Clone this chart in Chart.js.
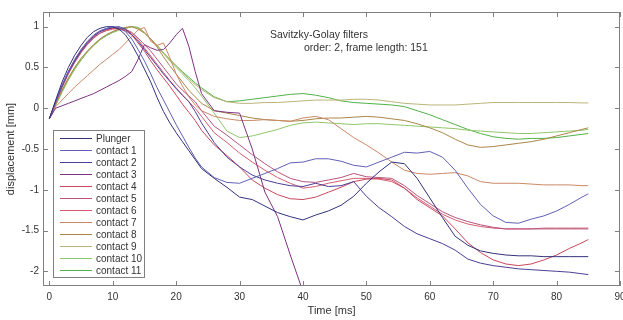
<!DOCTYPE html>
<html>
<head>
<meta charset="utf-8">
<script src="https://cdn.jsdelivr.net/npm/chart.js@4.4.0/dist/chart.umd.min.js"></script>
<style>
  html, body { margin: 0; padding: 0; background: #fff; }
</style>
</head>
<body>
<canvas id="displacement-chart" width="623" height="320"></canvas>
<script>
// time [ms]
const time = [0, 1, 2, 3, 4, 5, 6, 7, 8, 9, 10, 11, 12, 13, 14, 15, 16, 17, 18, 19, 20, 21, 22, 23, 24,
  26, 28, 30, 32, 34, 36, 38, 40, 42, 44, 46, 48, 50, 52, 54, 56, 58, 60, 62, 64, 66, 68, 70, 72, 74, 76, 78, 80, 82, 84, 85];

// displacement [mm]
const plunger = [-0.13, 0.1, 0.32, 0.5, 0.65, 0.77, 0.87, 0.94, 0.98, 1.0, 1.0, 0.97, 0.9, 0.78, 0.64, 0.48, 0.32, 0.13, -0.04, -0.18, -0.3, -0.41, -0.52, -0.63, -0.74,
  -0.86, -0.97, -1.09, -1.12, -1.2, -1.28, -1.33, -1.37, -1.31, -1.26, -1.19, -1.08, -0.92, -0.78, -0.66, -0.68, -0.86, -1.1, -1.34, -1.57, -1.68, -1.75, -1.78, -1.8, -1.81, -1.81, -1.82, -1.82, -1.82, -1.82, -1.82];
const contact1 = [-0.13, 0.08, 0.28, 0.45, 0.6, 0.72, 0.82, 0.9, 0.95, 0.98, 1.0, 0.99, 0.94, 0.85, 0.72, 0.58, 0.42, 0.25, 0.1, -0.05, -0.2, -0.34, -0.48, -0.61, -0.72,
  -0.85, -0.91, -0.92, -0.86, -0.8, -0.74, -0.67, -0.66, -0.62, -0.62, -0.65, -0.7, -0.72, -0.66, -0.6, -0.54, -0.55, -0.53, -0.6, -0.76, -0.98, -1.18, -1.32, -1.4, -1.41, -1.36, -1.32, -1.26, -1.18, -1.09, -1.05];
const contact2 = [-0.13, 0.08, 0.27, 0.44, 0.58, 0.7, 0.8, 0.88, 0.94, 0.97, 0.99, 1.0, 0.97, 0.9, 0.82, 0.72, 0.62, 0.52, 0.42, 0.33, 0.24, 0.16, 0.08, -0.04, -0.18,
  -0.42, -0.6, -0.72, -0.82, -0.88, -0.92, -0.95, -0.96, -0.92, -0.96, -0.95, -0.9, -1.08, -1.22, -1.33, -1.45, -1.54, -1.6, -1.66, -1.74, -1.85, -1.9, -1.93, -1.95, -1.97, -1.98, -1.99, -2.0, -2.01, -2.03, -2.04];
const contact3 = [-0.13, 0.0, 0.03, 0.06, 0.09, 0.12, 0.15, 0.18, 0.22, 0.26, 0.3, 0.34, 0.39, 0.45, 0.6, 0.78, 0.74, 0.71, 0.72, 0.8, 0.9, 0.98, 0.76, 0.45, 0.18,
  -0.03, -0.05, -0.06, -0.5, -1.03, -1.33, -1.8, -2.25, null, null, null, null, null, null, null, null, null, null, null, null, null, null, null, null, null, null, null, null, null, null, null];
const contact4 = [-0.13, 0.08, 0.28, 0.45, 0.59, 0.71, 0.81, 0.89, 0.94, 0.97, 0.98, 0.97, 0.95, 0.9, 0.8, 0.7, 0.58, 0.47, 0.37, 0.27, 0.16, 0.05, -0.05, -0.15, -0.27,
  -0.45, -0.58, -0.72, -0.88, -0.98, -1.06, -1.11, -1.12, -1.09, -1.03, -0.97, -0.9, -0.87, -0.86, -0.88, -0.98, -1.12, -1.22, -1.32, -1.48, -1.65, -1.77, -1.86, -1.91, -1.93, -1.91, -1.86, -1.8, -1.72, -1.65, -1.61];
const contact5 = [-0.13, 0.07, 0.26, 0.43, 0.57, 0.69, 0.79, 0.87, 0.92, 0.96, 0.98, 0.98, 0.97, 0.93, 0.86, 0.78, 0.7, 0.6, 0.5, 0.4, 0.3, 0.22, 0.15, 0.08, -0.03,
  -0.22, -0.33, -0.45, -0.57, -0.68, -0.78, -0.86, -0.9, -0.91, -0.88, -0.85, -0.8, -0.84, -0.85, -0.86, -0.95, -1.07, -1.17, -1.27, -1.34, -1.39, -1.43, -1.46, -1.48, -1.48, -1.48, -1.48, -1.48, -1.48, -1.48, -1.48];
const contact6 = [-0.13, 0.07, 0.25, 0.42, 0.56, 0.68, 0.78, 0.86, 0.92, 0.95, 0.97, 0.98, 0.96, 0.92, 0.84, 0.74, 0.64, 0.54, 0.44, 0.34, 0.25, 0.16, 0.08, 0.0, -0.1,
  -0.3, -0.42, -0.55, -0.66, -0.76, -0.85, -0.92, -0.98, -0.96, -0.92, -0.89, -0.86, -0.86, -0.87, -0.9, -0.98, -1.1, -1.2, -1.3, -1.37, -1.42, -1.45, -1.47, -1.48, -1.48, -1.48, -1.47, -1.47, -1.47, -1.47, -1.47];
const contact7 = [-0.13, 0.02, 0.1, 0.18, 0.26, 0.33, 0.4, 0.47, 0.54, 0.6, 0.66, 0.72, 0.8, 0.88, 0.96, 0.99, 0.82, 0.77, 0.8, 0.62, 0.42, 0.27, 0.14, 0.04, -0.03,
  -0.1, -0.13, -0.15, -0.15, -0.14, -0.15, -0.16, -0.12, -0.1, -0.14, -0.25, -0.36, -0.45, -0.55, -0.66, -0.76, -0.8, -0.81, -0.8, -0.79, -0.83, -0.9, -0.92, -0.92, -0.92, -0.93, -0.94, -0.94, -0.94, -0.95, -0.95];
const contact8 = [-0.13, 0.05, 0.22, 0.37, 0.5, 0.61, 0.7, 0.78, 0.85, 0.9, 0.94, 0.97, 0.99, 1.0, 0.97, 0.92, 0.85, 0.75, 0.63, 0.52, 0.42, 0.32, 0.22, 0.14, 0.06,
  -0.03, -0.06, -0.09, -0.12, -0.14, -0.15, -0.16, -0.15, -0.13, -0.12, -0.12, -0.11, -0.1, -0.11, -0.13, -0.15, -0.19, -0.24, -0.3, -0.38, -0.45, -0.48, -0.47, -0.45, -0.43, -0.41, -0.38, -0.34, -0.3, -0.26, -0.24];
const contact9 = [-0.13, 0.05, 0.22, 0.37, 0.5, 0.61, 0.7, 0.78, 0.85, 0.9, 0.94, 0.97, 0.99, 1.0, 0.98, 0.93, 0.85, 0.77, 0.68, 0.6, 0.52, 0.44, 0.36, 0.29, 0.23,
  0.13, 0.08, 0.06, 0.06, 0.07, 0.07, 0.08, 0.09, 0.1, 0.1, 0.1, 0.11, 0.11, 0.1, 0.08, 0.06, 0.05, 0.04, 0.04, 0.04, 0.05, 0.06, 0.07, 0.07, 0.07, 0.07, 0.07, 0.07, 0.07, 0.065, 0.065];
const contact10 = [-0.13, 0.04, 0.2, 0.35, 0.48, 0.59, 0.69, 0.77, 0.84, 0.89, 0.93, 0.96, 0.98, 1.0, 0.99, 0.93, 0.85, 0.76, 0.67, 0.58, 0.5, 0.42, 0.34, 0.25, 0.15,
  -0.06, -0.28, -0.36, -0.34, -0.3, -0.26, -0.21, -0.18, -0.17, -0.18, -0.19, -0.2, -0.19, -0.19, -0.2, -0.21, -0.22, -0.23, -0.24, -0.25, -0.27, -0.28, -0.29, -0.3, -0.31, -0.31, -0.3, -0.29, -0.28, -0.27, -0.26];
const contact11 = [-0.13, 0.04, 0.2, 0.35, 0.48, 0.59, 0.69, 0.77, 0.84, 0.89, 0.93, 0.96, 0.98, 1.0, 0.99, 0.93, 0.85, 0.77, 0.68, 0.6, 0.52, 0.45, 0.38, 0.31, 0.25,
  0.14, 0.08, 0.09, 0.11, 0.13, 0.15, 0.17, 0.18, 0.16, 0.13, 0.09, 0.07, 0.06, 0.05, 0.04, 0.02, -0.03, -0.08, -0.14, -0.2, -0.26, -0.31, -0.35, -0.37, -0.38, -0.37, -0.37, -0.36, -0.34, -0.32, -0.31];

const seriesNames = ['Plunger', 'contact 1', 'contact 2', 'contact 3', 'contact 4', 'contact 5',
  'contact 6', 'contact 7', 'contact 8', 'contact 9', 'contact 10', 'contact 11'];
const seriesValues = [plunger, contact1, contact2, contact3, contact4, contact5,
  contact6, contact7, contact8, contact9, contact10, contact11];

const xTicks = [0, 10, 20, 30, 40, 50, 60, 70, 80, 90];
const yTicks = [-2, -1.5, -1, -0.5, 0, 0.5, 1];

const colors = ['#32327a', '#6060b4', '#4c3e96', '#7e3282', '#c9485e', '#b8547e',
  '#d45e70', '#cb8866', '#aa8648', '#bbb47a', '#90c66a', '#52b048'];

const FONT = '"Liberation Sans", Arial, sans-serif';

// frame, inward ticks, annotation and the boxed legend
const framePlugin = {
  id: 'frame',
  afterDraw(chart) {
    const { ctx, chartArea: a, scales: { x, y } } = chart;
    ctx.save();
    ctx.strokeStyle = '#808080';
    ctx.lineWidth = 1;
    ctx.strokeRect(a.left + 0.5, a.top + 0.5, a.right - a.left - 1, a.bottom - a.top - 1);
    ctx.beginPath();
    xTicks.forEach(v => {
      const px = Math.round(x.getPixelForValue(v)) + 0.5;
      ctx.moveTo(px, a.bottom); ctx.lineTo(px, a.bottom - 5);
      ctx.moveTo(px, a.top); ctx.lineTo(px, a.top + 5);
    });
    yTicks.forEach(v => {
      const py = Math.round(y.getPixelForValue(v)) + 0.5;
      ctx.moveTo(a.left, py); ctx.lineTo(a.left + 5, py);
      ctx.moveTo(a.right, py); ctx.lineTo(a.right - 5, py);
    });
    ctx.stroke();

    // annotation
    ctx.fillStyle = '#333';
    ctx.font = '10.5px ' + FONT;
    ctx.textBaseline = 'middle';
    ctx.textAlign = 'left';
    ctx.fillText('Savitzky-Golay filters', 270, 35);
    ctx.fillText('order: 2, frame length: 151', 304, 48);

    // legend
    const lx = 53, ly = 130, lw = 91, lh = 147;
    ctx.fillStyle = '#fff';
    ctx.fillRect(lx, ly, lw, lh);
    ctx.strokeStyle = '#808080';
    ctx.strokeRect(lx + 0.5, ly + 0.5, lw, lh);
    ctx.font = '10px ' + FONT;
    chart.data.datasets.forEach((ds, i) => {
      const ry = ly + 8 + i * 12;
      ctx.strokeStyle = ds.borderColor;
      ctx.beginPath();
      ctx.moveTo(60, ry + 0.5);
      ctx.lineTo(92, ry + 0.5);
      ctx.stroke();
      ctx.fillStyle = '#333';
      ctx.fillText(ds.label, 96, ry + 1);
    });
    ctx.restore();
  }
};

const ctx = document.getElementById('displacement-chart').getContext('2d');
new Chart(ctx, {
  type: 'line',
  data: {
    datasets: seriesValues.map((vals, i) => ({
      label: seriesNames[i],
      data: time.map((t, k) => ({ x: t, y: vals[k] })),
      borderColor: colors[i],
      borderWidth: 1,
      pointRadius: 0,
      tension: 0,
      fill: false,
      spanGaps: false
    }))
  },
  options: {
    responsive: false,
    animation: false,
    layout: { padding: { top: 12, right: 3, left: 0, bottom: 0 } },
    plugins: {
      legend: { display: false },
      tooltip: { enabled: false }
    },
    scales: {
      x: {
        type: 'linear',
        min: -1,
        max: 90,
        grid: { display: false, drawTicks: false },
        border: { display: false },
        afterBuildTicks: s => { s.ticks = xTicks.map(v => ({ value: v })); },
        afterFit: s => { s.height = 34; s.paddingLeft = 0; s.paddingRight = 0; },
        ticks: { padding: 5, color: '#333', font: { family: FONT, size: 10 }, maxRotation: 0, callback: v => String(v) },
        title: { display: true, text: 'Time [ms]', color: '#333', font: { family: FONT, size: 11 }, padding: { top: 0, bottom: 2 } }
      },
      y: {
        min: -2.18,
        max: 1.18,
        grid: { display: false, drawTicks: false },
        border: { display: false },
        afterBuildTicks: s => { s.ticks = yTicks.map(v => ({ value: v })); },
        afterFit: s => { s.width = 43; s.paddingTop = 0; s.paddingBottom = 0; },
        ticks: { padding: 4, color: '#333', font: { family: FONT, size: 10 }, callback: v => String(v) },
        title: { display: true, text: 'displacement [mm]', color: '#333', font: { family: FONT, size: 11 }, padding: { top: 4, bottom: 0 } }
      }
    }
  },
  plugins: [framePlugin]
});
</script>
</body>
</html>
